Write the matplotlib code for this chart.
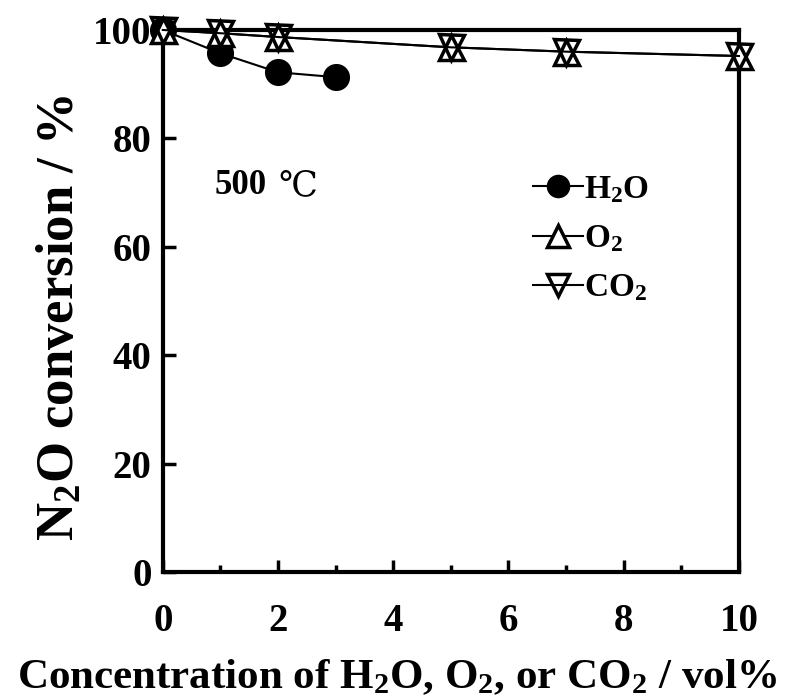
import matplotlib.pyplot as plt
from matplotlib.ticker import MultipleLocator

plt.rcParams['font.family'] = ['Liberation Serif', 'DejaVu Serif']
plt.rcParams['font.weight'] = 'bold'
plt.rcParams['axes.labelweight'] = 'bold'
plt.rcParams['mathtext.fontset'] = 'custom'
plt.rcParams['mathtext.rm'] = 'Liberation Serif:bold'
plt.rcParams['mathtext.bf'] = 'Liberation Serif:bold'
plt.rcParams['mathtext.default'] = 'bf'

# data
h2o_x = [0, 1, 2, 3]
h2o_y = [100, 95.7, 92.2, 91.3]
o2_x = [0, 1, 2, 5, 7, 10]
o2_y = [100, 99.4, 98.7, 96.8, 96.0, 95.2]
co2_x = [0, 1, 2, 5, 7, 10]
co2_y = [100, 99.4, 98.7, 96.8, 96.0, 95.2]

fig = plt.figure(figsize=(7.98, 6.97), dpi=100)
ax = fig.add_axes([0.204, 0.179, 0.722, 0.778])

lw = 1.5
ms = 17
mew = 2.5
ax.plot(h2o_x, h2o_y, '-o', color='black', lw=lw, ms=ms, mfc='black', mec='black',
        mew=mew, clip_on=False, zorder=3, label='H$_2$O')
ax.plot(o2_x, o2_y, '-^', color='black', lw=lw, ms=ms + 1, mfc='white', mec='black',
        mew=mew, clip_on=False, zorder=4, label='O$_2$')
ax.plot(co2_x, co2_y, '-v', color='black', lw=lw, ms=ms + 1, mfc='none', mec='black',
        mew=mew, clip_on=False, zorder=5, label='CO$_2$')

ax.set_xlim(0, 10)
ax.set_ylim(0, 100)
ax.xaxis.set_major_locator(MultipleLocator(2))
ax.xaxis.set_minor_locator(MultipleLocator(1))
ax.yaxis.set_major_locator(MultipleLocator(20))
ax.tick_params(which='both', direction='in', width=2.5, labelsize=28)
ax.tick_params(axis='x', pad=22)
ax.tick_params(axis='y', pad=8)
ax.tick_params(which='major', length=9)
ax.tick_params(which='minor', length=5)
for sp in ax.spines.values():
    sp.set_linewidth(3)

fig.text(0.497, 0.012, 'Concentration of H$_2$O, O$_2$, or CO$_2$ / vol%', fontsize=31,
         fontweight='bold', ha='center', va='baseline')
ax.set_ylabel('N$_2$O conversion / %', fontsize=38)
ax.yaxis.set_label_coords(-0.135, 0.47)

ax.text(0.09, 0.714, '500', transform=ax.transAxes, fontsize=25, fontweight='bold',
        va='center')
ax.text(0.2, 0.714, '\u2103', transform=ax.transAxes, fontsize=25, fontweight='normal',
        family=['DejaVu Serif'], va='center')

leg = ax.legend(loc='upper left', bbox_to_anchor=(0.59, 0.79), frameon=False, fontsize=24,
                handlelength=1.5, handletextpad=0.05, labelspacing=0.55, markerscale=0.85)

plt.savefig('out.png', dpi=100)
